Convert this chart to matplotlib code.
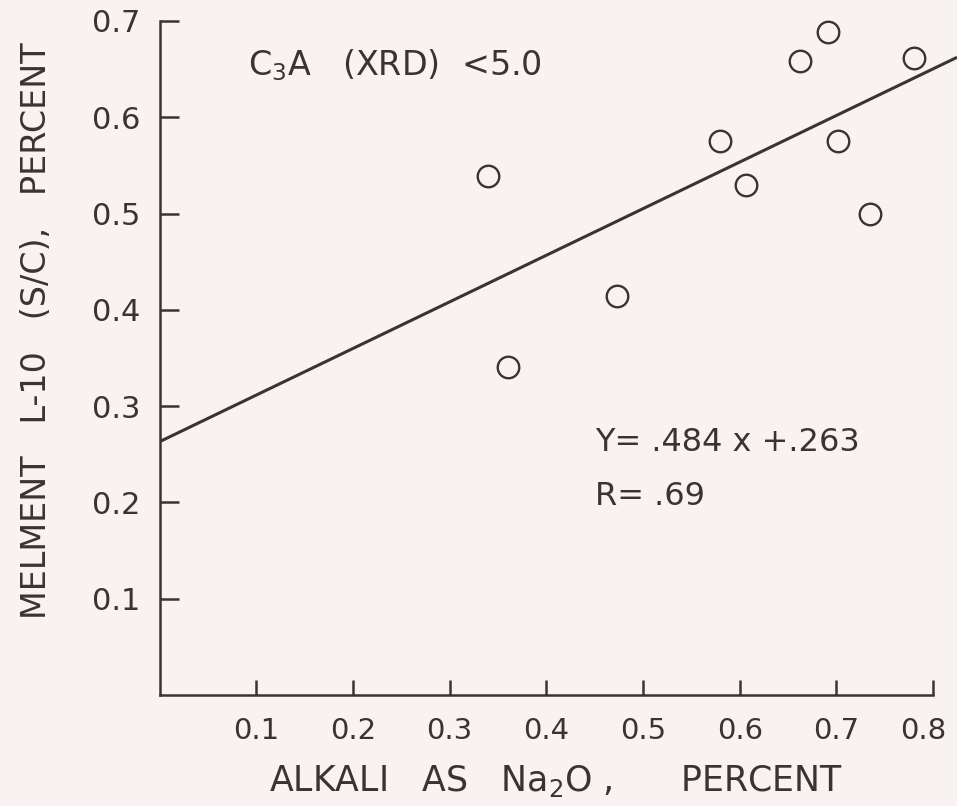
import numpy as np
import matplotlib
matplotlib.use("Agg")
import matplotlib.pyplot as plt
import matplotlib.transforms as mtransforms

# ---- data ----
alkali_na2o = [0.340, 0.360, 0.473, 0.580, 0.606, 0.662, 0.691, 0.702, 0.735, 0.780]
melment_l10 = [0.539, 0.341, 0.414, 0.575, 0.530, 0.658, 0.688, 0.575, 0.499, 0.661]
fit_slope = 0.484
fit_intercept = 0.263
fit_r = 0.69
x_ticks = [0.1, 0.2, 0.3, 0.4, 0.5, 0.6, 0.7, 0.8]
x_ticklabels = ["0.1", "0.2", "0.3", "0.4", "0.5", "0.6", "0.7", "0.8"]
y_ticks = [0.1, 0.2, 0.3, 0.4, 0.5, 0.6, 0.7]
y_ticklabels = ["0.1", "0.2", "0.3", "0.4", "0.5", "0.6", "0.7"]

INK = "#3b3236"
BG = "#f8f3f0"

plt.rcParams["font.family"] = ["DejaVu Sans"]

fig = plt.figure(figsize=(9.57, 8.06), dpi=100, facecolor=BG)
ax = fig.add_axes([159.5 / 957, 111 / 806, 1 - 159.5 / 957, 695 / 806])
ax.set_facecolor(BG)

xmax = (957 - 159.5) / 967
ymax = 695 / 963
ax.set_xlim(0, xmax)
ax.set_ylim(0, ymax)

# regression line
xl = np.array([0.0, xmax])
ax.plot(xl, fit_slope * xl + fit_intercept, color=INK, lw=2.2, solid_capstyle="butt")

# points
ax.plot(alkali_na2o, melment_l10, linestyle="none", marker="o", ms=15.5,
        mfc="none", mec=INK, mew=1.7)

# spines
for s in ["top", "right"]:
    ax.spines[s].set_visible(False)
for s in ["left", "bottom"]:
    ax.spines[s].set_color(INK)
    ax.spines[s].set_linewidth(1.8)
ax.spines["left"].set_bounds(0, 0.7)
ax.spines["bottom"].set_bounds(0, 0.8)

ax.set_xticks(x_ticks)
ax.set_xticklabels(x_ticklabels)
ax.set_yticks(y_ticks)
ax.set_yticklabels(y_ticklabels)
ax.tick_params(axis="y", direction="in", length=14, width=1.8, color=INK,
               labelcolor=INK, labelsize=22, pad=14)
ax.tick_params(axis="x", direction="in", length=11, width=1.8, color=INK,
               labelcolor=INK, labelsize=21, pad=16)

# the last x label sits slightly left of its tick in the reference
last = ax.get_xticklabels()[-1]
last.set_transform(last.get_transform() +
                   mtransforms.ScaledTranslation(-10 / 100, 0, fig.dpi_scale_trans))

ax.set_xlabel(r"ALKALI   AS   $\mathregular{Na_2O}$ ,      PERCENT", fontsize=25, color=INK)
ax.xaxis.set_label_coords(0.497, -0.098)
ax.set_ylabel("MELMENT   L-10   (S/C),   PERCENT", fontsize=24, color=INK)
ax.yaxis.set_label_coords(-0.133, 0.524)

ax.text(0.111, 0.906, r"$\mathregular{C_3A}$   (XRD)  <5.0", transform=ax.transAxes,
        fontsize=24, color=INK, ha="left", va="center")
ax.text(0.546, 0.363, "Y= .%d x +.%d" % (round(fit_slope * 1000), round(fit_intercept * 1000)),
        transform=ax.transAxes, fontsize=23, color=INK, ha="left", va="center")
ax.text(0.546, 0.285, "R= .%d" % round(fit_r * 100), transform=ax.transAxes,
        fontsize=23, color=INK, ha="left", va="center")

fig.savefig("out.png", dpi=100, facecolor=BG)
